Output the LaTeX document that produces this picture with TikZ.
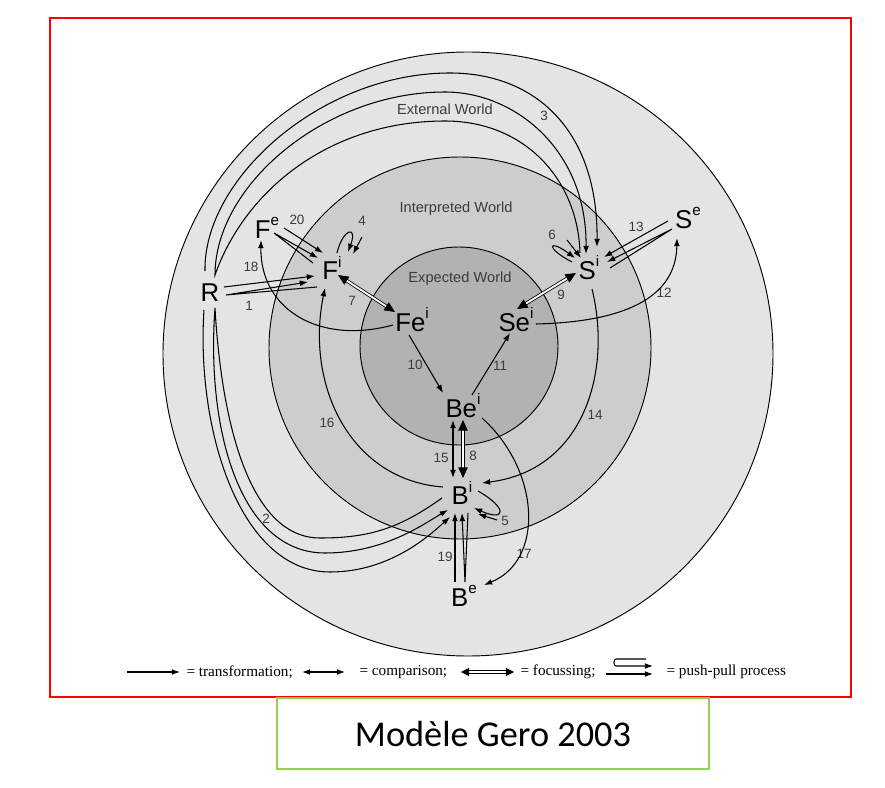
\documentclass[tikz,border=0pt]{standalone}
\usepackage{fontspec}
\setmainfont{Liberation Sans}
\newfontfamily\legendfont{Liberation Serif}
\newfontfamily\titlefont{Carlito}
\usetikzlibrary{arrows.meta,calc}

\definecolor{extgray}{RGB}{228,228,228}
\definecolor{intgray}{RGB}{205,205,205}
\definecolor{expgray}{RGB}{178,178,178}
\definecolor{numgray}{RGB}{60,60,60}
\definecolor{boxgreen}{RGB}{146,208,80}

\newcommand{\upidx}[1]{\raisebox{0.5em}{\fontsize{13}{13}\selectfont #1}}

\tikzset{
  world/.style={draw,line width=0.8pt},
  sym/.style={font=\fontsize{22}{22}\selectfont,inner sep=1pt},
  num/.style={font=\fontsize{11.5}{12}\selectfont,text=numgray,inner sep=1pt},
  wlabel/.style={font=\fontsize{12.5}{14}\selectfont,text=numgray},
  trans/.style={-{Latex[length=7pt,width=5pt]}},
  comp/.style={{Latex[length=7pt,width=5pt]}-{Latex[length=7pt,width=5pt]}},
  focus/.style={double distance=1.6pt,line width=0.7pt,{Triangle[length=9pt,width=8pt]}-{Triangle[length=9pt,width=8pt]}},
  legtext/.style={font=\legendfont\fontsize{13}{14}\selectfont,anchor=west,inner sep=0pt},
}

\begin{document}
\begin{tikzpicture}[x=0.03cm,y=-0.03cm,line width=0.9pt]
    \useasboundingbox (0,0) rectangle (885,788);
    \draw[red,line width=1.2pt] (50,18) rectangle (851,697);

    % Worlds
    \draw[world,fill=extgray] (468,354) ellipse [x radius=305,y radius=302];
    \draw[world,fill=intgray] (460,348) circle [radius=191];
    \draw[world,fill=expgray] (459,346) circle [radius=99];
    \node[wlabel] (extw) at (445,109) {External World};
    \node[wlabel] (intw) at (456,209) {Interpreted World};
    \node[wlabel] (expw) at (460,279) {Expected World};

    % Design objects
    \foreach \n/\x/\y/\t in {
        R/210/293/R,
        Fe/267/228/F\upidx{e},
        Fi/332/268/F\upidx{i},
        Fei/412/320/Fe\upidx{i},
        Sei/516/320/Se\upidx{i},
        Si/589/268/S\upidx{i},
        Se/688/218/S\upidx{e},
        Bei/463/406/Be\upidx{i},
        Bi/462/493/B\upidx{i},
        Be/464/596/B\upidx{e}}{
      \node[sym] (\n) at (\x,\y) {\t};
    }

    % Process numbers
    \foreach \n/\x/\y in {1/249/306, 2/266/519, 3/544/116, 4/362/221, 5/505/521,
        6/552/235, 7/352/301, 8/473/456, 9/561/295, 10/415/365, 11/500/366,
        12/664/293, 13/636/227, 14/595/415, 15/441/458, 16/327/423, 17/524/554,
        18/251/267, 19/445/557, 20/297/220}{
      \node[num] (n\n) at (\x,\y) {\n};
    }

    % 1: R -> Fi
    \draw[trans] ($(R)+(14,-6)$) -- ($(Fi)+(-17,8)$);
    \draw[trans] ($(Fi)+(-15,19)$) -- ($(R)+(16,2)$) -- ($(Fi)+(-24,14)$);

    % 2: R -> Bi
    \draw[trans] ($(R)+(-6,17)$) .. controls (196,430) and (240,572) .. (330,572)
        .. controls (390,572) and (430,535) .. ($(Bi)+(-12,24)$);
    \draw[trans] ($(Bi)+(-20,5)$) .. controls (400,528) and (370,538) .. (320,538)
        .. controls (252,538) and (222,430) .. ($(R)+(5,15)$)
        .. controls (206,430) and (240,553) .. (325,553)
        .. controls (385,553) and (425,523) .. ($(Bi)+(-14,17)$);

    % 3: R -> Si
    \draw[trans] ($(R)+(-5,-22)$) .. controls (203,180) and (320,73) .. (450,73)
        .. controls (535,73) and (598,130) .. ($(Si)+(8,-21)$);
    \draw[trans] ($(Si)+(-9,-15)$) .. controls (578,180) and (525,121) .. (445,121)
        .. controls (330,121) and (245,190) .. ($(R)+(5,-18)$)
        .. controls (215,185) and (325,92) .. (445,92)
        .. controls (515,92) and (587,150) .. ($(Si)+(-3,-14)$);

    % 4, 5, 6: self loops
    \draw[trans] ($(Fi)+(5,-15)$) .. controls (343,228) and (358,225) .. ($(Fi)+(16,-16)$);
    \draw[trans] ($(Fi)+(30,-31)$) -- ($(Fi)+(21,-14)$);
    \draw[trans] ($(Bi)+(16,-2)$) .. controls (508,508) and (506,522) .. ($(Bi)+(12,15)$);
    \draw[trans] ($(Bi)+(35,27)$) -- ($(Bi)+(16,21)$);
    \draw[trans] ($(Si)+(-17,-6)$) .. controls (545,248) and (548,238) .. ($(Si)+(-14,-10)$);
    \draw[trans] ($(Si)+(-22,-28)$) -- ($(Si)+(-8,-10)$);

    % 7, 8, 9: focussing
    \draw[focus] ($(Fi)+(6,7)$) -- ($(Fei)+(-17,-8)$);
    \draw[focus] ($(Bei)+(0,14)$) -- ($(Bi)+(1,-15)$);
    \draw[focus] ($(Sei)+(1,-11)$) -- ($(Si)+(-13,5)$);

    % 10, 11
    \draw[trans] ($(Fei)+(-3,15)$) -- ($(Bei)+(-20,-13)$);
    \draw[trans] ($(Bei)+(9,-11)$) -- ($(Sei)+(-6,13)$);

    % 12: Sei -> Se
    \draw[trans] ($(Sei)+(20,4)$) .. controls (620,322) and (676,300) .. ($(Se)+(-11,20)$);

    % 13: Se -> Si
    \draw[trans] ($(Se)+(-20,3)$) -- ($(Si)+(15,-11)$);
    \draw[trans] ($(Si)+(21,0)$) -- ($(Se)+(-16,11)$) -- ($(Si)+(18,-6)$);

    % 14: Si -> Bi
    \draw[trans] ($(Si)+(3,21)$) .. controls (612,370) and (585,470) .. ($(Bi)+(20,-10)$);

    % 15: comparison
    \draw[comp] ($(Bei)+(-10,14)$) -- ($(Bi)+(-9,-15)$);

    % 16: Bi -> Fi
    \draw[trans] ($(Bi)+(-19,-6)$) .. controls (350,480) and (305,385) .. ($(Fi)+(-7,20)$);

    % 17: Bei -> Be
    \draw[trans] ($(Bei)+(19,12)$) .. controls (540,470) and (545,560) .. ($(Be)+(20,-11)$);

    % 18: Fei -> Fe
    \draw[trans] ($(Fei)+(-19,5)$) .. controls (320,345) and (260,310) .. ($(Fe)+(-6,12)$);

    % 19: Be -> Bi
    \draw[trans] ($(Be)+(-9,-14)$) -- ($(Bi)+(-7,20)$);
    \draw[trans] ($(Bi)+(6,20)$) -- ($(Be)+(1,-14)$) -- ($(Bi)+(0,20)$);

    % 20: Fe -> Fi
    \draw[trans] ($(Fe)+(17,0)$) -- ($(Fi)+(-9,-15)$);
    \draw[trans] ($(Fi)+(-19,-5)$) -- ($(Fe)+(7,5)$) -- ($(Fi)+(-14,-10)$);

    % Legend
    \draw[trans] (127,672) -- (180,672);
    \node[legtext] (ltrans) at (186,672) {= transformation;};
    \draw[comp] (302,672) -- (345,672);
    \node[legtext] (lcomp) at (359,672) {= comparison;};
    \draw[focus,{Triangle[length=7pt,width=7pt]}-{Triangle[length=7pt,width=7pt]}] (461,672) -- (514,672);
    \node[legtext] (lfocus) at (520,672) {= focussing;};
    \draw[trans] (646,659) -- (616,659) to[out=180,in=180] (616,666) -- (653,666);
    \draw[trans] (606,674) -- (653,674);
    \node[legtext] (lpush) at (666,672) {= push-pull process};

    % Caption
    \draw[boxgreen,line width=1.2pt] (277,698) rectangle (709,769);
    \node[font=\titlefont\fontsize{31}{31}\selectfont] (title) at (493,734) {Modèle Gero 2003};
\end{tikzpicture}
\end{document}
